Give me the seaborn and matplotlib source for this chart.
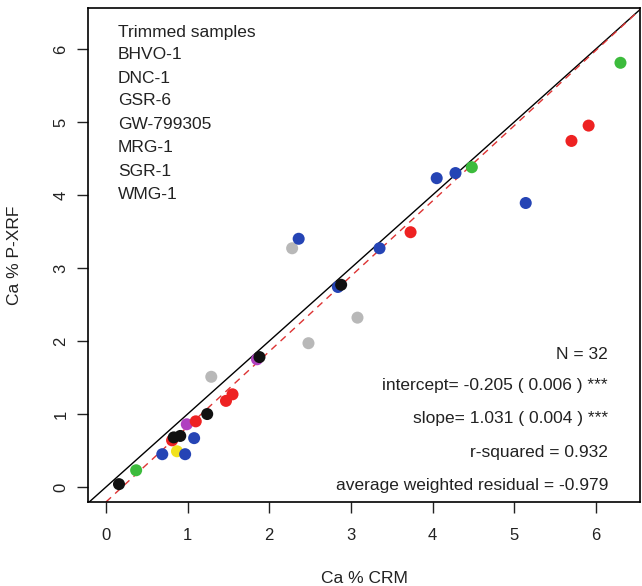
import pandas as pd
import seaborn as sns
import matplotlib.pyplot as plt

# sample names in legend order
samples = ["BHVO-1", "DNC-1", "GSR-6", "GW-799305", "MRG-1", "SGR-1", "WMG-1"]
sample_colors = ["#111111", "#ee2222", "#3cbb3c", "#2544b5", "#b040c0", "#f2e21e", "#b8b8b8"]

# points (drawn in this order, black last)
point_sample = (["WMG-1"] * 4 + ["SGR-1"] + ["MRG-1"] * 2 + ["GW-799305"] * 9
                + ["GSR-6"] * 3 + ["DNC-1"] * 7 + ["BHVO-1"] * 6)
ca_crm = [2.28, 3.08, 2.48, 1.29,
          0.87,
          1.85, 0.99,
          4.28, 4.05, 5.14, 2.36, 3.35, 2.84, 1.08, 0.69, 0.97,
          6.30, 4.48, 0.37,
          5.91, 5.70, 3.73, 1.55, 1.47, 1.10, 0.81,
          2.88, 1.88, 1.24, 0.83, 0.91, 0.16]
ca_pxrf = [3.27, 2.32, 1.97, 1.51,
           0.49,
           1.75, 0.86,
           4.30, 4.23, 3.89, 3.40, 3.27, 2.74, 0.67, 0.45, 0.45,
           5.81, 4.38, 0.23,
           4.95, 4.74, 3.49, 1.27, 1.18, 0.90, 0.64,
           2.77, 1.78, 1.00, 0.68, 0.70, 0.04]

intercept = -0.205
slope = 1.031
stats_lines = ["N = 32",
               "intercept= -0.205 ( 0.006 ) ***",
               "slope= 1.031 ( 0.004 ) ***",
               "r-squared = 0.932",
               "average weighted residual = -0.979"]

df = pd.DataFrame({"sample": point_sample, "crm": ca_crm, "pxrf": ca_pxrf})

sns.set_theme(style="white")
plt.rcParams["font.family"] = ["Liberation Sans", "DejaVu Sans"]
plt.rcParams["text.color"] = "#222222"

fig = plt.figure(figsize=(6.42, 5.86), dpi=100)
ax = fig.add_axes([0.137, 0.1433, 0.860, 0.843])

sns.scatterplot(data=df, x="crm", y="pxrf", hue="sample",
                palette=dict(zip(samples, sample_colors)),
                s=75, linewidth=0, legend=False, ax=ax, zorder=3)

ax.axline((0, 0), slope=1, color="black", lw=1.0, zorder=2)
ax.axline((0, intercept), slope=slope, color="#dd3333", lw=1.0,
          ls=(0, (5, 4)), zorder=2)

ax.set_xlim(-0.22, 6.54)
ax.set_ylim(-0.205, 6.56)
ax.set_xticks(range(7))
ax.set_yticks(range(7))
ax.tick_params(axis="both", direction="out", length=8, width=1,
               labelsize=12, colors="#222222", bottom=True, left=True)
ax.tick_params(axis="x", pad=11)
ax.tick_params(axis="y", pad=6, labelrotation=90)
for lab in ax.get_yticklabels():
    lab.set_va("center")

for sp in ax.spines.values():
    sp.set_color("black")
    sp.set_linewidth(1.2)

ax.set_xlabel("Ca % CRM", fontsize=12.5, color="#222222")
ax.set_ylabel("Ca % P-XRF", fontsize=12.5, color="#222222")
ax.xaxis.set_label_coords(0.5, -0.14)
ax.yaxis.set_label_coords(-0.12, 0.5)

# legend-like text block (no symbols in the original)
legend_y = [0.951, 0.905, 0.858, 0.812, 0.765, 0.717, 0.670, 0.623]
for txt, yy in zip(["Trimmed samples"] + samples, legend_y):
    ax.text(0.054, yy, txt, transform=ax.transAxes, fontsize=12.5,
            ha="left", va="center")

stats_y = [0.298, 0.235, 0.170, 0.101, 0.034]
for txt, yy in zip(stats_lines, stats_y):
    ax.text(0.942, yy, txt, transform=ax.transAxes, fontsize=12.5,
            ha="right", va="center")

fig.savefig("out.png", dpi=100)
